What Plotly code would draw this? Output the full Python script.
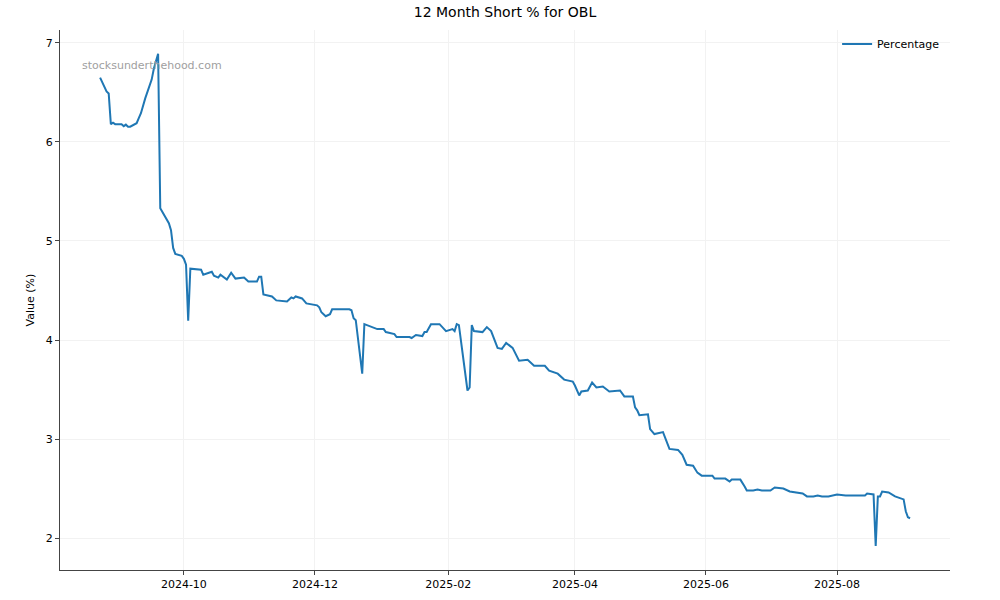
import plotly.graph_objects as go

dates = [
    "2024-08-23", "2024-08-26", "2024-08-27", "2024-08-28", "2024-08-29", "2024-08-30",
    "2024-09-02", "2024-09-03", "2024-09-04", "2024-09-05", "2024-09-06", "2024-09-09",
    "2024-09-10", "2024-09-11", "2024-09-13", "2024-09-16", "2024-09-17", "2024-09-19",
    "2024-09-20", "2024-09-24", "2024-09-25", "2024-09-26", "2024-09-27", "2024-09-30",
    "2024-10-01", "2024-10-02", "2024-10-03", "2024-10-04", "2024-10-09", "2024-10-10",
    "2024-10-14", "2024-10-15", "2024-10-17", "2024-10-18", "2024-10-21", "2024-10-23",
    "2024-10-25", "2024-10-29", "2024-10-31", "2024-11-04", "2024-11-05", "2024-11-06",
    "2024-11-07", "2024-11-11", "2024-11-13", "2024-11-18", "2024-11-20", "2024-11-21",
    "2024-11-22", "2024-11-25", "2024-11-27", "2024-12-02", "2024-12-03", "2024-12-04",
    "2024-12-06", "2024-12-08", "2024-12-09", "2024-12-17", "2024-12-18", "2024-12-19",
    "2024-12-20", "2024-12-23", "2024-12-24", "2024-12-30", "2025-01-02", "2025-01-03",
    "2025-01-07", "2025-01-08", "2025-01-10", "2025-01-14", "2025-01-15", "2025-01-17",
    "2025-01-20", "2025-01-21", "2025-01-22", "2025-01-24", "2025-01-28", "2025-01-31",
    "2025-02-03", "2025-02-04", "2025-02-05", "2025-02-06", "2025-02-10", "2025-02-11",
    "2025-02-12", "2025-02-13", "2025-02-17", "2025-02-19", "2025-02-21", "2025-02-24",
    "2025-02-26", "2025-02-28", "2025-03-03", "2025-03-06", "2025-03-10", "2025-03-13",
    "2025-03-18", "2025-03-20", "2025-03-24", "2025-03-27", "2025-03-31", "2025-04-01",
    "2025-04-03", "2025-04-04", "2025-04-07", "2025-04-09", "2025-04-11", "2025-04-14",
    "2025-04-17", "2025-04-22", "2025-04-24", "2025-04-28", "2025-04-29", "2025-04-30",
    "2025-05-01", "2025-05-05", "2025-05-06", "2025-05-08", "2025-05-12", "2025-05-13",
    "2025-05-15", "2025-05-19", "2025-05-21", "2025-05-23", "2025-05-26", "2025-05-28",
    "2025-05-30", "2025-06-04", "2025-06-05", "2025-06-10", "2025-06-12", "2025-06-13",
    "2025-06-17", "2025-06-19", "2025-06-20", "2025-06-23", "2025-06-25", "2025-06-27",
    "2025-06-30", "2025-07-01", "2025-07-03", "2025-07-07", "2025-07-10", "2025-07-14",
    "2025-07-16", "2025-07-18", "2025-07-21", "2025-07-23", "2025-07-25", "2025-07-28",
    "2025-08-01", "2025-08-05", "2025-08-14", "2025-08-15", "2025-08-18", "2025-08-19",
    "2025-08-20", "2025-08-21", "2025-08-22", "2025-08-25", "2025-08-27", "2025-08-28",
    "2025-09-01", "2025-09-02", "2025-09-03", "2025-09-04",
]

percentage = [
    6.65, 6.51, 6.49, 6.18, 6.195, 6.18,
    6.18, 6.16, 6.175, 6.155, 6.155, 6.19,
    6.24, 6.29, 6.44, 6.63, 6.74, 6.89,
    5.33, 5.18, 5.11, 4.93, 4.87, 4.85,
    4.82, 4.76, 4.195, 4.72, 4.71, 4.66,
    4.69, 4.65, 4.63, 4.66, 4.61, 4.68,
    4.62, 4.63, 4.59, 4.59, 4.64, 4.64,
    4.46, 4.44, 4.40, 4.39, 4.43, 4.42,
    4.44, 4.42, 4.37, 4.35, 4.33, 4.28,
    4.24, 4.26, 4.31, 4.31, 4.30, 4.22,
    4.20, 3.66, 4.16, 4.11, 4.11, 4.08,
    4.06, 4.03, 4.03, 4.03, 4.02, 4.05,
    4.04, 4.08, 4.08, 4.16, 4.16, 4.09,
    4.11, 4.09, 4.16, 4.15, 3.49, 3.52,
    4.15, 4.09, 4.08, 4.13, 4.09, 3.92,
    3.91, 3.97, 3.92, 3.79, 3.80, 3.74,
    3.74, 3.69, 3.66, 3.60, 3.58, 3.54,
    3.44, 3.48, 3.49, 3.57, 3.52, 3.53,
    3.48, 3.49, 3.43, 3.43, 3.32, 3.29,
    3.24, 3.25, 3.10, 3.05, 3.07, 3.01,
    2.90, 2.89, 2.84, 2.74, 2.73, 2.66,
    2.63, 2.63, 2.60, 2.60, 2.57, 2.59,
    2.59, 2.52, 2.48, 2.48, 2.49, 2.48,
    2.48, 2.48, 2.51, 2.50, 2.47, 2.46,
    2.45, 2.42, 2.42, 2.43, 2.42, 2.42,
    2.44, 2.43, 2.43, 2.45, 2.44, 1.92,
    2.42, 2.42, 2.47, 2.46, 2.43, 2.42,
    2.39, 2.27, 2.21, 2.20,
]

font = "DejaVu Sans"

fig = go.Figure(
    data=[
        go.Scatter(
            x=dates,
            y=percentage,
            mode="lines",
            name="Percentage",
            line=dict(color="#1f77b4", width=2),
        )
    ]
)

fig.update_layout(
    width=1000,
    height=600,
    paper_bgcolor="white",
    plot_bgcolor="white",
    margin=dict(l=60, r=50, t=30, b=30, autoexpand=False),
    font=dict(family=font, size=11, color="black"),
    title=dict(text="12 Month Short % for OBL", x=0.505, xanchor="center",
               y=0.98, yanchor="middle", automargin=False,
               font=dict(size=14, family=font, color="black")),
    showlegend=True,
    legend=dict(x=0.9945, y=1.001, xanchor="right", yanchor="top", bgcolor="rgba(0,0,0,0)",
                font=dict(size=11, family=font)),
)

fig.update_xaxes(
    type="date",
    automargin=False,
    range=["2024-08-04 08:00", "2025-09-22 14:00"],
    tick0="2024-10-01",
    dtick="M2",
    tickformat="%Y-%m",
    showgrid=True,
    gridcolor="#f2f2f2",
    gridwidth=1,
    showline=True,
    linecolor="#444",
    linewidth=1,
    ticks="outside",
    ticklen=4,
    tickcolor="#444",
    zeroline=False,
)

fig.update_yaxes(
    automargin=False,
    range=[1.677, 7.131],
    dtick=1,
    title=dict(text="Value (%)", standoff=8, font=dict(size=11)),
    showgrid=True,
    gridcolor="#f2f2f2",
    gridwidth=1,
    showline=True,
    linecolor="#444",
    linewidth=1,
    ticks="outside",
    ticklen=4,
    tickcolor="#444",
    zeroline=False,
)

# watermark
fig.add_annotation(
    text="stocksunderthehood.com",
    xref="paper", yref="paper",
    x=0.022, y=0.935, xanchor="left", yanchor="middle",
    showarrow=False,
    font=dict(size=11, family=font, color="#a0a0a0"),
)

# drop the default 8px page margin so the figure sits at the top-left corner
fig.write_html("out.html", config={"displayModeBar": False},
               post_script="document.body.style.margin = '0';")
